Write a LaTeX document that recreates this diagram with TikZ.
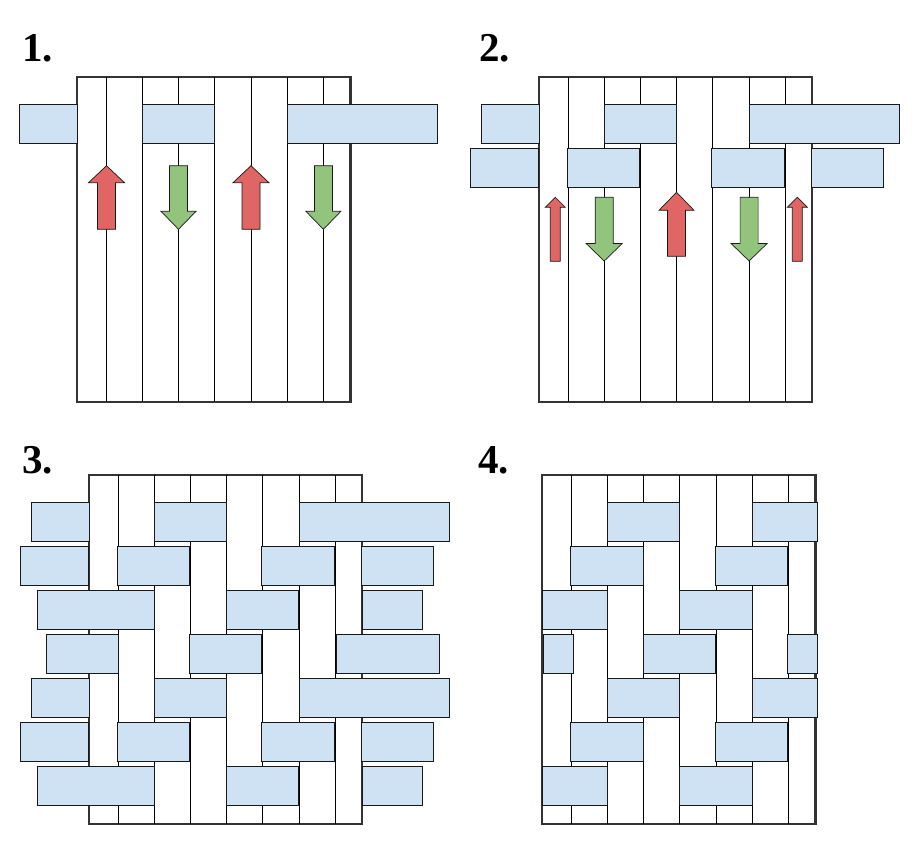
\documentclass[tikz,border=0pt]{standalone}
\usepackage{fontspec}
\setmainfont{Liberation Serif}
\definecolor{weftblue}{HTML}{CFE2F3}
\definecolor{liftred}{HTML}{E06666}
\definecolor{sinkgreen}{HTML}{93C47D}
% x, tip, tail, shaft half width, head half width, head length
\newcommand{\liftarrow}[6]{\filldraw[lift] (#1-#4,#3) -- (#1-#4,#2+#6) -- (#1-#5,#2+#6) -- (#1,#2) -- (#1+#5,#2+#6) -- (#1+#4,#2+#6) -- (#1+#4,#3) -- cycle;}
\newcommand{\sinkarrow}[6]{\filldraw[sink] (#1-#4,#2) -- (#1-#4,#3-#6) -- (#1-#5,#3-#6) -- (#1,#3) -- (#1+#5,#3-#6) -- (#1+#4,#3-#6) -- (#1+#4,#2) -- cycle;}
\newcommand{\weftrow}[2]{\foreach \xl/\xr in #2 \draw[weft] (\xl,#1) rectangle (\xr,#1+39);}
\newcommand{\warpframe}[1]{\draw[frame] (77.3,77.3) rectangle (350.4,#1);
	\foreach \x in {106.5,142.5,178.5,214.8,251,287.4,323.4}
		\draw[warp] (\x,77.3) -- (\x,#1);}
\def\pickA{19.7/77.3,142.5/214.8,287.5/437.7}
\def\pickB{8.7/77,105.7/178,250/322.7,350.2/421.7}
\def\pickC{25.7/142.5,214.8/287,350.6/410.7}
\def\pickD{34.7/106.5,178/250,324.7/427.7}
\def\clipA{142.5/214.8,287.5/352.3}
\def\clipB{105.7/178,250/322.7}
\def\clipC{77.3/142.5,214.8/287}
\def\clipD{78.3/108.3,178/250,322.7/352.3}
\begin{document}
\begin{tikzpicture}[x=1pt,y=-1pt,
		frame/.style={draw=black!80,line width=2.2pt,fill=white},
		warp/.style={draw=black,line width=0.9pt},
		weft/.style={draw=black!90,line width=0.9pt,fill=weftblue},
		lift/.style={draw=black!90,line width=0.7pt,fill=liftred},
		sink/.style={draw=black!90,line width=0.7pt,fill=sinkgreen},
		numlabel/.style={anchor=base west,inner sep=0pt,font=\bfseries\fontsize{41}{41}\selectfont}]
	\useasboundingbox (0,0) rectangle (920,849);
	\node[numlabel] (n1) at (22,61) {1.};
	\node[numlabel] (n2) at (479,61) {2.};
	\node[numlabel] (n3) at (22,473) {3.};
	\node[numlabel] (n4) at (478,473) {4.};

	\warpframe{401.7}
	\liftarrow{106.5}{165.7}{229.3}{9}{18}{17}
	\sinkarrow{178.5}{165.7}{229.3}{9}{17.5}{18}
	\liftarrow{251}{165.7}{229.3}{9}{18}{17}
	\sinkarrow{323.4}{165.7}{229.3}{9}{17.5}{18}
	\weftrow{104.3}{\pickA}

	\begin{scope}[shift={(461.7,0)}]
		\warpframe{401.7}
		\liftarrow{93.6}{197.3}{261.3}{5}{10}{10}
		\sinkarrow{142.5}{197.3}{261}{9}{18}{17.5}
		\liftarrow{214.8}{192.3}{256.3}{9}{17.5}{18}
		\sinkarrow{287.4}{197.3}{261}{9}{18}{17.5}
		\liftarrow{335.6}{197.3}{261.3}{5}{10}{10}
		\weftrow{104.3}{\pickA}
		\weftrow{148.3}{\pickB}
	\end{scope}

	\begin{scope}[shift={(11.7,397.7)}]
		\warpframe{426.6}
		\weftrow{104.3}{\pickA}
		\weftrow{148.3}{\pickB}
		\weftrow{192.3}{\pickC}
		\weftrow{236.3}{\pickD}
		\weftrow{280.3}{\pickA}
		\weftrow{324.3}{\pickB}
		\weftrow{368.3}{\pickC}
	\end{scope}

	\begin{scope}[shift={(465,397.7)}]
		\warpframe{426.6}
		\weftrow{104.3}{\clipA}
		\weftrow{148.3}{\clipB}
		\weftrow{192.3}{\clipC}
		\weftrow{236.3}{\clipD}
		\weftrow{280.3}{\clipA}
		\weftrow{324.3}{\clipB}
		\weftrow{368.3}{\clipC}
	\end{scope}
\end{tikzpicture}
\end{document}
